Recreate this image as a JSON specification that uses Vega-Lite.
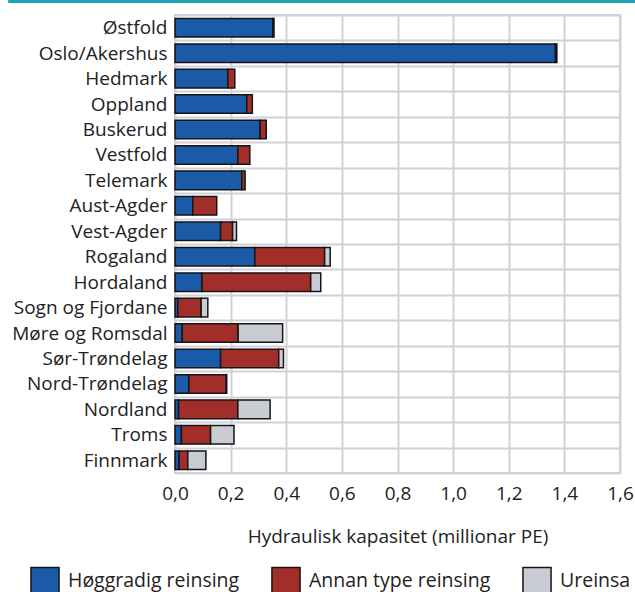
{
  "$schema": "https://vega.github.io/schema/vega-lite/v6.json",
  "padding": {"left": 8, "top": 0, "right": 0, "bottom": 0},
  "background": "white",
  "spacing": 2,
  "config": {
    "concat": {"spacing": 2},
    "font": "Open Sans",
    "axis": {"labelFont": "Open Sans", "titleFont": "Open Sans", "labelColor": "#222", "titleColor": "#222"},
    "legend": {"labelFont": "Open Sans"}
  },
  "datasets": {
    "kap": [
      {"fylke": "Østfold", "type": "Høggradig reinsing", "verdi": 0.352},
      {"fylke": "Østfold", "type": "Annan type reinsing", "verdi": 0.004},
      {"fylke": "Oslo/Akershus", "type": "Høggradig reinsing", "verdi": 1.368},
      {"fylke": "Oslo/Akershus", "type": "Annan type reinsing", "verdi": 0.005},
      {"fylke": "Hedmark", "type": "Høggradig reinsing", "verdi": 0.19},
      {"fylke": "Hedmark", "type": "Annan type reinsing", "verdi": 0.025},
      {"fylke": "Oppland", "type": "Høggradig reinsing", "verdi": 0.258},
      {"fylke": "Oppland", "type": "Annan type reinsing", "verdi": 0.02},
      {"fylke": "Buskerud", "type": "Høggradig reinsing", "verdi": 0.306},
      {"fylke": "Buskerud", "type": "Annan type reinsing", "verdi": 0.022},
      {"fylke": "Vestfold", "type": "Høggradig reinsing", "verdi": 0.226},
      {"fylke": "Vestfold", "type": "Annan type reinsing", "verdi": 0.043},
      {"fylke": "Telemark", "type": "Høggradig reinsing", "verdi": 0.24},
      {"fylke": "Telemark", "type": "Annan type reinsing", "verdi": 0.012},
      {"fylke": "Aust-Agder", "type": "Høggradig reinsing", "verdi": 0.064},
      {"fylke": "Aust-Agder", "type": "Annan type reinsing", "verdi": 0.086},
      {"fylke": "Vest-Agder", "type": "Høggradig reinsing", "verdi": 0.164},
      {"fylke": "Vest-Agder", "type": "Annan type reinsing", "verdi": 0.043},
      {"fylke": "Vest-Agder", "type": "Ureinsa", "verdi": 0.014},
      {"fylke": "Rogaland", "type": "Høggradig reinsing", "verdi": 0.287},
      {"fylke": "Rogaland", "type": "Annan type reinsing", "verdi": 0.251},
      {"fylke": "Rogaland", "type": "Ureinsa", "verdi": 0.02},
      {"fylke": "Hordaland", "type": "Høggradig reinsing", "verdi": 0.097},
      {"fylke": "Hordaland", "type": "Annan type reinsing", "verdi": 0.391},
      {"fylke": "Hordaland", "type": "Ureinsa", "verdi": 0.036},
      {"fylke": "Sogn og Fjordane", "type": "Høggradig reinsing", "verdi": 0.01},
      {"fylke": "Sogn og Fjordane", "type": "Annan type reinsing", "verdi": 0.084},
      {"fylke": "Sogn og Fjordane", "type": "Ureinsa", "verdi": 0.024},
      {"fylke": "Møre og Romsdal", "type": "Høggradig reinsing", "verdi": 0.026},
      {"fylke": "Møre og Romsdal", "type": "Annan type reinsing", "verdi": 0.201},
      {"fylke": "Møre og Romsdal", "type": "Ureinsa", "verdi": 0.16},
      {"fylke": "Sør-Trøndelag", "type": "Høggradig reinsing", "verdi": 0.164},
      {"fylke": "Sør-Trøndelag", "type": "Annan type reinsing", "verdi": 0.209},
      {"fylke": "Sør-Trøndelag", "type": "Ureinsa", "verdi": 0.017},
      {"fylke": "Nord-Trøndelag", "type": "Høggradig reinsing", "verdi": 0.05},
      {"fylke": "Nord-Trøndelag", "type": "Annan type reinsing", "verdi": 0.134},
      {"fylke": "Nord-Trøndelag", "type": "Ureinsa", "verdi": 0.002},
      {"fylke": "Nordland", "type": "Høggradig reinsing", "verdi": 0.013},
      {"fylke": "Nordland", "type": "Annan type reinsing", "verdi": 0.213},
      {"fylke": "Nordland", "type": "Ureinsa", "verdi": 0.116},
      {"fylke": "Troms", "type": "Høggradig reinsing", "verdi": 0.023},
      {"fylke": "Troms", "type": "Annan type reinsing", "verdi": 0.105},
      {"fylke": "Troms", "type": "Ureinsa", "verdi": 0.084},
      {"fylke": "Finnmark", "type": "Høggradig reinsing", "verdi": 0.015},
      {"fylke": "Finnmark", "type": "Annan type reinsing", "verdi": 0.031},
      {"fylke": "Finnmark", "type": "Ureinsa", "verdi": 0.065}
    ],
    "typar": [
      {"type": "Høggradig reinsing", "nr": 1},
      {"type": "Annan type reinsing", "nr": 2},
      {"type": "Ureinsa", "nr": 3}
    ]
  },
  "vconcat": [
    {
      "width": 445,
      "height": 3,
      "data": {"values": [{}]},
      "mark": {"type": "rect", "fill": "#19a7b3", "strokeWidth": 0, "clip": false},
      "encoding": {
        "x": {"datum": -0.6, "type": "quantitative", "scale": {"domain": [0, 1.6], "nice": false, "zero": false}, "axis": null},
        "x2": {"datum": 1.655}
      },
      "view": {"stroke": null}
    },
    {
      "width": 445,
      "height": 458,
      "data": {"name": "kap"},
      "transform": [
        {"lookup": "type", "from": {"data": {"name": "typar"}, "key": "type", "fields": ["nr"]}}
      ],
      "view": {"stroke": "#d0d1d8", "strokeWidth": 2},
      "mark": {"type": "bar", "stroke": "#151515", "strokeWidth": 1.5, "height": {"band": 0.73}},
      "encoding": {
        "y": {
          "field": "fylke",
          "type": "nominal",
          "sort": null,
          "scale": {"paddingInner": 0, "paddingOuter": 0},
          "axis": {
            "title": null,
            "ticks": false,
            "domain": false,
            "grid": true,
            "tickBand": "extent",
            "gridColor": "#d0d1d8",
            "gridWidth": 2,
            "labelFontSize": 19,
            "labelPadding": 8,
            "labelColor": "#222"
          }
        },
        "x": {
          "field": "verdi",
          "type": "quantitative",
          "stack": "zero",
          "scale": {"domain": [0, 1.6], "nice": false},
          "axis": {
            "title": "Hydraulisk kapasitet (millionar PE)",
            "values": [0, 0.2, 0.4, 0.6, 0.8, 1.0, 1.2, 1.4, 1.6],
            "labelExpr": "replace(format(datum.value, '.1f'), '.', ',')",
            "ticks": false,
            "tickSize": 0,
            "domain": false,
            "grid": true,
            "gridColor": "#d0d1d8",
            "gridWidth": 2,
            "labelFontSize": 19,
            "labelPadding": 11,
            "labelFlush": false,
            "titleFontSize": 19,
            "titleFontWeight": "normal",
            "titlePadding": 24
          }
        },
        "color": {
          "field": "type",
          "type": "nominal",
          "sort": ["Høggradig reinsing", "Annan type reinsing", "Ureinsa"],
          "scale": {
            "domain": ["Høggradig reinsing", "Annan type reinsing", "Ureinsa"],
            "range": ["#1a5aa6", "#a22e29", "#c9ccd3"]
          },
          "legend": {
            "title": null,
            "orient": "none",
            "legendX": -145,
            "legendY": 566,
            "direction": "horizontal",
            "symbolType": "square",
            "symbolSize": 790,
            "symbolStrokeColor": "#151515",
            "symbolStrokeWidth": 1.5,
            "symbolOpacity": 1,
            "labelFontSize": 19.5,
            "labelColor": "#222",
            "labelOffset": 8,
            "columnPadding": 28,
            "padding": 0,
            "labelLimit": 400
          }
        },
        "order": {"field": "nr", "type": "quantitative", "sort": "ascending"}
      }
    }
  ]
}
